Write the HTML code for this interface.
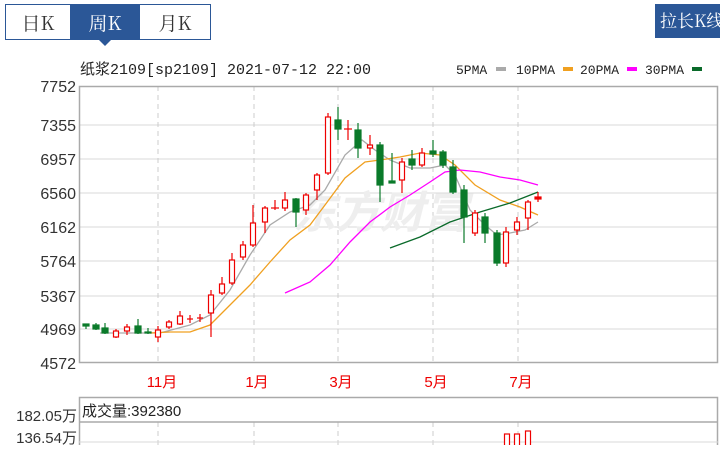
<!DOCTYPE html>
<html><head><meta charset="utf-8"><style>
body{margin:0;background:#fff;width:720px;height:445px;overflow:hidden;font-family:"Liberation Sans","Noto Sans CJK SC",sans-serif}
</style></head><body>
<svg width="720" height="445" xmlns="http://www.w3.org/2000/svg" font-family="Liberation Sans, Noto Sans CJK SC, sans-serif">
<!-- tabs -->
<rect x="5.5" y="4.5" width="205" height="35" fill="#fff" stroke="#2b5797"/>
<rect x="70" y="5" width="70" height="35" fill="#2b5797"/>
<polygon points="99,40 111,40 105,46" fill="#2b5797"/>
<text x="38" y="30" font-size="19" text-anchor="middle" fill="#333" font-family="Noto Serif CJK SC, serif">日K</text>
<text x="105" y="30" font-size="19" text-anchor="middle" fill="#fff" font-family="Noto Serif CJK SC, serif">周K</text>
<text x="175" y="30" font-size="19" text-anchor="middle" fill="#333" font-family="Noto Serif CJK SC, serif">月K</text>
<rect x="655" y="4" width="65" height="34" fill="#2b5797"/>
<text x="660" y="27" font-size="17" fill="#fff" font-family="Noto Serif CJK SC, serif">拉长K线</text>
<!-- title -->
<text x="80" y="74" font-size="15" fill="#222" font-family="Liberation Mono, Noto Sans CJK SC, monospace">纸浆2109[sp2109] 2021-07-12 22:00</text>
<g font-size="13" fill="#222" font-family="Liberation Mono, monospace">
<text x="456" y="74">5PMA</text><rect x="496" y="67" width="10" height="4" fill="#aaa"/>
<text x="516" y="74">10PMA</text><rect x="563" y="67" width="10" height="4" fill="#f0a020"/>
<text x="580" y="74">20PMA</text><rect x="627" y="67" width="10" height="4" fill="#f0f"/>
<text x="645" y="74">30PMA</text><rect x="692" y="67" width="10" height="4" fill="#0a6a2a"/>
</g>
<!-- grid -->
<g stroke="#d8d8d8" stroke-width="1">
<line x1="79" y1="125" x2="718" y2="125"/><line x1="79" y1="159" x2="718" y2="159"/>
<line x1="79" y1="193" x2="718" y2="193"/><line x1="79" y1="227" x2="718" y2="227"/>
<line x1="79" y1="261" x2="718" y2="261"/><line x1="79" y1="296" x2="718" y2="296"/>
<line x1="79" y1="329" x2="718" y2="329"/>
</g>
<g stroke="#ccc" stroke-dasharray="5,4">
<line x1="158" y1="86" x2="158" y2="362"/><line x1="254" y1="86" x2="254" y2="362"/>
<line x1="338" y1="86" x2="338" y2="362"/><line x1="433" y1="86" x2="433" y2="362"/>
<line x1="518" y1="86" x2="518" y2="362"/>
<line x1="158" y1="422" x2="158" y2="445"/><line x1="254" y1="422" x2="254" y2="445"/>
<line x1="338" y1="422" x2="338" y2="445"/><line x1="433" y1="422" x2="433" y2="445"/>
<line x1="518" y1="422" x2="518" y2="445"/>
</g>
<rect x="79.5" y="86.5" width="638" height="276" fill="none" stroke="#aaa" stroke-width="1.5"/>
<text x="380" y="228" font-size="44" fill="#eee" font-weight="bold" font-style="italic" text-anchor="middle">东方财富</text>
<g font-size="16" fill="#333" text-anchor="end">
<text x="76" y="92">7752</text><text x="76" y="131">7355</text><text x="76" y="165">6957</text>
<text x="76" y="199">6560</text><text x="76" y="233">6162</text><text x="76" y="267">5764</text>
<text x="76" y="302">5367</text><text x="76" y="335">4969</text><text x="76" y="369">4572</text>
</g>
<g font-size="15" fill="#e00" text-anchor="middle">
<text x="162" y="387">11月</text><text x="257" y="387">1月</text><text x="341" y="387">3月</text>
<text x="436" y="387">5月</text><text x="521" y="387">7月</text>
</g>
<!-- MAs -->
<g fill="none" stroke-width="1.3">
<polyline stroke="#aaa" points="100,333 160,333 190,325 210,315 230,290 250,255 270,225 290,212 310,205 325,190 345,155 362,140 375,150 390,160 410,168 430,168 445,165 455,175 470,210 485,225 497,235 510,233 525,230 538,222"/>
<polyline stroke="#f0a020" points="150,333 170,332 190,332 210,325 230,305 250,285 270,262 290,240 310,225 325,205 345,178 365,162 380,160 400,157 420,153 440,155 455,165 475,185 500,200 520,207 538,215"/>
<polyline stroke="#f0f" points="285,293 310,282 330,265 350,242 370,222 390,207 410,195 430,182 445,172 460,170 480,172 500,177 520,180 538,185"/>
<polyline stroke="#0a6a2a" points="390,248 420,237 450,222 480,212 510,203 538,192"/>
</g>
<!-- candles: r=red hollow, g=green filled -->
<g stroke-width="1.2">
<!-- x, top, bottom, wickTop, wickBottom -->
<g stroke="#0a7a2a" fill="#0a7a2a">
<line x1="86" y1="324" x2="86" y2="329"/><rect x="83" y="324" width="6" height="2"/>
<line x1="96" y1="323" x2="96" y2="330"/><rect x="93" y="325" width="6" height="4"/>
<line x1="105" y1="323" x2="105" y2="334"/><rect x="102" y="328" width="6" height="5"/>
<line x1="138" y1="319" x2="138" y2="334"/><rect x="135" y="326" width="6" height="7"/>
<line x1="148" y1="328" x2="148" y2="334"/><rect x="145" y="332" width="6" height="1"/>
<line x1="296" y1="198" x2="296" y2="227"/><rect x="293" y="199" width="6" height="13"/>
<line x1="338" y1="107" x2="338" y2="140"/><rect x="335" y="120" width="6" height="9"/>
<line x1="358" y1="123" x2="358" y2="158"/><rect x="355" y="130" width="6" height="18"/>
<line x1="380" y1="142" x2="380" y2="202"/><rect x="377" y="145" width="6" height="40"/>
<line x1="392" y1="153" x2="392" y2="183"/><rect x="389" y="181" width="6" height="2"/>
<line x1="412" y1="150" x2="412" y2="170"/><rect x="409" y="159" width="6" height="6"/>
<line x1="433" y1="140" x2="433" y2="157"/><rect x="430" y="151" width="6" height="3"/>
<line x1="443" y1="150" x2="443" y2="168"/><rect x="440" y="152" width="6" height="13"/>
<line x1="453" y1="160" x2="453" y2="194"/><rect x="450" y="167" width="6" height="25"/>
<line x1="464" y1="185" x2="464" y2="243"/><rect x="461" y="190" width="6" height="27"/>
<line x1="485" y1="213" x2="485" y2="243"/><rect x="482" y="217" width="6" height="16"/>
<line x1="497" y1="230" x2="497" y2="266"/><rect x="494" y="233" width="6" height="30"/>
</g>
<g stroke="#e00" fill="#fff">
<line x1="116" y1="329" x2="116" y2="338"/><rect x="113.5" y="331" width="5" height="6"/>
<line x1="127" y1="324" x2="127" y2="335"/><rect x="124.5" y="327" width="5" height="4"/>
<line x1="158" y1="326" x2="158" y2="342"/><rect x="155.5" y="330" width="5" height="7"/>
<line x1="169" y1="320" x2="169" y2="329"/><rect x="166.5" y="322" width="5" height="5"/>
<line x1="180" y1="311" x2="180" y2="325"/><rect x="177.5" y="316" width="5" height="8"/>
<line x1="190" y1="315" x2="190" y2="323"/><line x1="187" y1="319" x2="193" y2="319"/>
<line x1="200" y1="314" x2="200" y2="322"/><line x1="197" y1="318" x2="203" y2="318"/>
<line x1="211" y1="290" x2="211" y2="337"/><rect x="208.5" y="295" width="5" height="18"/>
<line x1="222" y1="277" x2="222" y2="295"/><rect x="219.5" y="284" width="5" height="9"/>
<line x1="232" y1="253" x2="232" y2="285"/><rect x="229.5" y="260" width="5" height="23"/>
<line x1="243" y1="241" x2="243" y2="260"/><rect x="240.5" y="245" width="5" height="12"/>
<line x1="253" y1="205" x2="253" y2="247"/><rect x="250.5" y="223" width="5" height="22"/>
<line x1="265" y1="206" x2="265" y2="233"/><rect x="262.5" y="208" width="5" height="14"/>
<line x1="275" y1="200" x2="275" y2="210"/><line x1="271" y1="208" x2="279" y2="208"/>
<line x1="285" y1="192" x2="285" y2="211"/><rect x="282.5" y="200" width="5" height="8"/>
<line x1="306" y1="193" x2="306" y2="215"/><rect x="303.5" y="195" width="5" height="15"/>
<line x1="317" y1="173" x2="317" y2="200"/><rect x="314.5" y="175" width="5" height="15"/>
<line x1="328" y1="113" x2="328" y2="175"/><rect x="325.5" y="117" width="5" height="56"/>
<line x1="348" y1="120" x2="348" y2="140"/><line x1="344" y1="129" x2="352" y2="129"/>
<line x1="370" y1="135" x2="370" y2="155"/><rect x="367.5" y="145" width="5" height="3"/>
<line x1="402" y1="158" x2="402" y2="193"/><rect x="399.5" y="162" width="5" height="18"/>
<line x1="422" y1="148" x2="422" y2="167"/><rect x="419.5" y="153" width="5" height="12"/>
<line x1="475" y1="210" x2="475" y2="236"/><rect x="472.5" y="213" width="5" height="20"/>
<line x1="506" y1="227" x2="506" y2="267"/><rect x="503.5" y="232" width="5" height="31"/>
<line x1="517" y1="217" x2="517" y2="235"/><rect x="514.5" y="222" width="5" height="8"/>
<line x1="528" y1="200" x2="528" y2="230"/><rect x="525.5" y="202" width="5" height="16"/>
<line x1="538" y1="192" x2="538" y2="202"/><rect x="535" y="197" width="6" height="2" fill="#e00"/>
</g>
</g>
<!-- volume panel -->
<rect x="79.5" y="397.5" width="638" height="60" fill="none" stroke="#aaa" stroke-width="1.5"/>
<line x1="79" y1="422" x2="718" y2="422" stroke="#aaa" stroke-width="1.5"/>
<line x1="79" y1="442" x2="718" y2="442" stroke="#d8d8d8"/>
<text x="82" y="416" font-size="15" fill="#222">成交量:392380</text>
<g font-size="15" fill="#333" text-anchor="end">
<text x="77" y="421">182.05万</text><text x="77" y="443">136.54万</text>
</g>
<g stroke="#e00" fill="#fff" stroke-width="1.2">
<rect x="504.5" y="434" width="5" height="20"/><rect x="514.5" y="434" width="5" height="20"/><rect x="525.5" y="431" width="5" height="20"/>
</g>
</svg>
</body></html>
